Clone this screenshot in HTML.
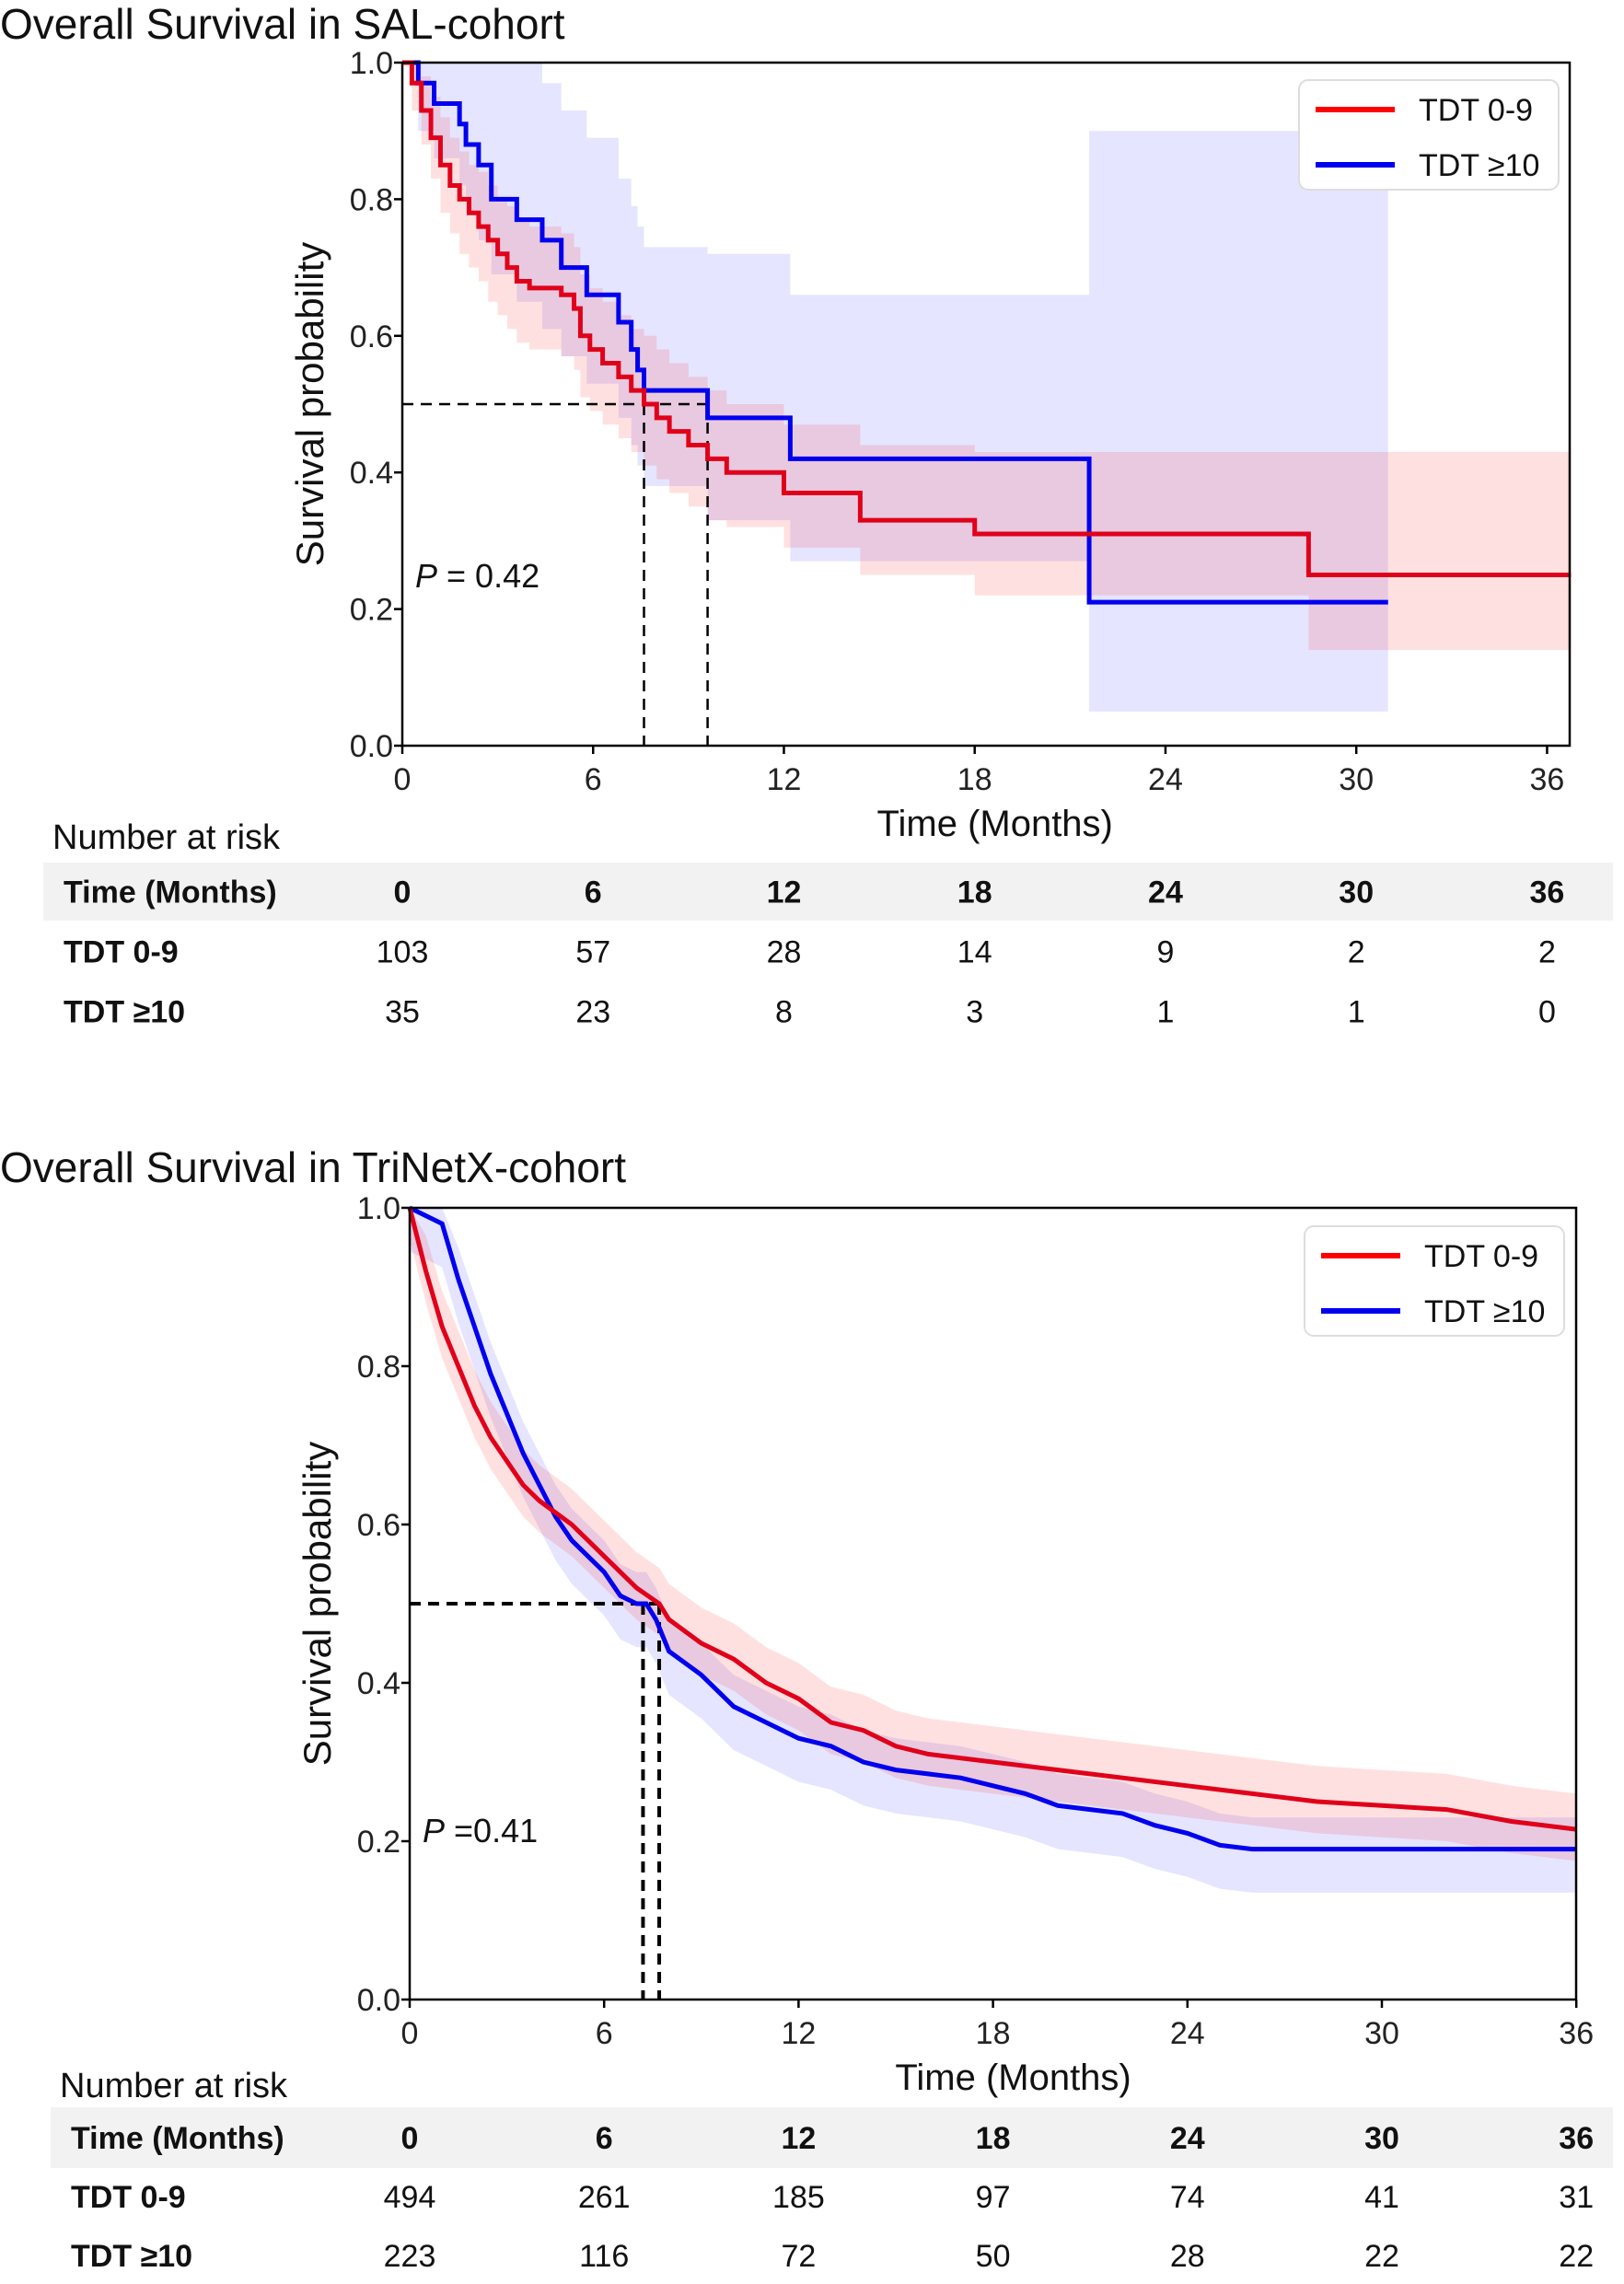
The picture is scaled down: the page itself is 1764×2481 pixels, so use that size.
<!DOCTYPE html>
<html><head><meta charset="utf-8"><style>
body{margin:0;background:#fff}
svg{display:block;font-family:"Liberation Sans Narrow","Liberation Sans",sans-serif}
</style></head><body>
<svg id="s" width="1764" height="2481" viewBox="0 0 1764 2481"></svg>
<script>
// ---- Chart A (SAL cohort) data ----
const aRedT  =[0,0.3,0.6,0.9,1.2,1.5,1.8,2.1,2.4,2.7,3.0,3.3,3.6,4.0,5.0,5.4,5.6,5.9,6.3,6.8,7.2,7.6,8.0,8.4,9.0,9.6,10.2,12.0,14.4,18.0,28.5,36.75];
const aRedS  =[1,0.97,0.93,0.89,0.85,0.82,0.80,0.78,0.76,0.74,0.72,0.70,0.68,0.67,0.66,0.64,0.60,0.58,0.56,0.54,0.52,0.50,0.48,0.46,0.44,0.42,0.40,0.37,0.33,0.31,0.25,0.25];
const aRedLo =[1,0.93,0.88,0.83,0.78,0.75,0.72,0.70,0.68,0.65,0.63,0.61,0.59,0.58,0.57,0.55,0.51,0.49,0.47,0.45,0.43,0.41,0.39,0.37,0.35,0.33,0.32,0.29,0.25,0.22,0.14,0.14];
const aRedHi =[1,1,0.98,0.95,0.92,0.89,0.87,0.85,0.84,0.82,0.80,0.79,0.77,0.76,0.75,0.73,0.69,0.67,0.65,0.63,0.61,0.60,0.58,0.56,0.54,0.52,0.50,0.47,0.44,0.43,0.43,0.43];
const aBluT  =[0,0.5,1.0,1.8,2.0,2.4,2.8,3.6,4.4,5.0,5.8,6.8,7.2,7.4,7.6,9.6,12.2,21.6,31];
const aBluS  =[1,0.97,0.94,0.91,0.88,0.85,0.80,0.77,0.74,0.70,0.66,0.62,0.58,0.55,0.52,0.48,0.42,0.21,0.21];
const aBluLo =[1,0.90,0.86,0.82,0.78,0.74,0.69,0.65,0.61,0.57,0.53,0.48,0.44,0.41,0.38,0.33,0.27,0.05,0.05];
const aBluHi =[1,1,1,1,1,1,1,1,0.97,0.93,0.89,0.83,0.79,0.76,0.73,0.72,0.66,0.90,0.90];
const aMed=[7.6,9.6];
// ---- Chart B (TriNetX cohort) data ----
const bRedT=[0,0.5,1,1.5,2,2.5,3,3.5,4,5,6,7,7.7,8,9,10,11,12,13,14,15,16,18,20,22,24,26,28,30,32,34,36];
const bRedS=[1,0.92,0.85,0.80,0.75,0.71,0.68,0.65,0.63,0.60,0.56,0.52,0.50,0.48,0.45,0.43,0.40,0.38,0.35,0.34,0.32,0.31,0.30,0.29,0.28,0.27,0.26,0.25,0.245,0.24,0.225,0.215];
const bBluT=[0,0.5,1,1.5,2,2.5,3,3.5,4,4.5,5,5.5,6,6.5,7,7.3,7.6,8,9,10,11,12,13,14,15,16,17,18,19,20,21,22,23,24,25,26,36];
const bBluS=[1,0.99,0.98,0.91,0.85,0.79,0.74,0.69,0.65,0.61,0.58,0.56,0.54,0.51,0.50,0.50,0.48,0.44,0.41,0.37,0.35,0.33,0.32,0.30,0.29,0.285,0.28,0.27,0.26,0.245,0.24,0.235,0.22,0.21,0.195,0.19,0.19];
const bMed=[7.2,7.7];
const xTicks=[0,6,12,18,24,30,36];
const yTicks=[0,0.2,0.4,0.6,0.8,1.0];
const aRiskRed=[103,57,28,14,9,2,2], aRiskBlu=[35,23,8,3,1,1,0];
const bRiskRed=[494,261,185,97,74,41,31], bRiskBlu=[223,116,72,50,28,22,22];

const NS="http://www.w3.org/2000/svg", svg=document.getElementById('s');
function el(tag,attrs,parent,txt){const e=document.createElementNS(NS,tag);for(const k in attrs)e.setAttribute(k,attrs[k]);if(txt!==undefined)e.textContent=txt;(parent||svg).appendChild(e);return e;}

function chart(cfg){
  const g=el('g',{});
  
  
  const X=t=>cfg.L+t*cfg.mw, Y=v=>cfg.B-v*(cfg.B-cfg.T);
  const title=el('text',{x:0,y:cfg.titleY,'font-size':46,fill:'#111'},g,cfg.title);
  
  
  function stepPath(T,S){let d='M'+X(T[0])+','+Y(S[0]);for(let i=1;i<T.length;i++){d+='H'+X(T[i])+'V'+Y(S[i]);}return d;}
  function smoothPath(T,S){return T.map((t,i)=>(i?'L':'M')+X(t)+','+Y(S[i])).join('');}
  function band(T,lo,hi,step,color,name){
    let up='',dn='';const n=T.length;
    if(step){up='M'+X(T[0])+','+Y(hi[0]);for(let i=1;i<n;i++)up+='H'+X(T[i])+'V'+Y(hi[i]);
      dn='V'+Y(lo[n-1]);for(let i=n-1;i>0;i--)dn+='V'+Y(lo[i-1])+'H'+X(T[i-1]);}
    else{up=T.map((t,i)=>(i?'L':'M')+X(t)+','+Y(hi[i])).join('');dn=T.slice().reverse().map((t,j)=>'L'+X(t)+','+Y(lo[n-1-j])).join('');}
    const p=el('path',{d:up+dn+'Z',fill:color,stroke:'none'},g);
    
    
  }
  cfg.bands.forEach(b=>band(b.T,b.lo,b.hi,cfg.step,b.color,b.name));
  const mx=Math.max(...cfg.med);
  const hl=el('path',{d:'M'+X(0)+','+Y(0.5)+'H'+X(mx),stroke:'#000','stroke-width':cfg.dw,'stroke-dasharray':'12,8',fill:'none'},g);
  
  
  cfg.med.forEach(m=>{const v=el('path',{d:'M'+X(m)+','+Y(0.5)+'V'+Y(0),stroke:'#000','stroke-width':cfg.dw,'stroke-dasharray':'12,8',fill:'none'},g);
    
    });
  cfg.lines.forEach(l=>{const p=el('path',{d:cfg.step?stepPath(l.T,l.S):smoothPath(l.T,l.S),stroke:l.color,'stroke-width':5,fill:'none','stroke-linejoin':'miter'},g);
    
    });
  const fr=el('rect',{x:cfg.L,y:cfg.T,width:cfg.R-cfg.L,height:cfg.B-cfg.T,fill:'none',stroke:'#000','stroke-width':2.5},g);
  
  
  yTicks.forEach(v=>{el('line',{x1:cfg.L-9,x2:cfg.L,y1:Y(v),y2:Y(v),stroke:'#000','stroke-width':2.5},g);
    const t=el('text',{x:cfg.L-10,y:Y(v)+12,'font-size':34,'text-anchor':'end',fill:'#222'},g,v.toFixed(1));
    
    });
  xTicks.forEach(v=>{el('line',{x1:X(v),x2:X(v),y1:cfg.B,y2:cfg.B+9,stroke:'#000','stroke-width':2.5},g);
    const t=el('text',{x:X(v),y:cfg.B+48,'font-size':34,'text-anchor':'middle',fill:'#222'},g,v);
    
    });
  const xl=el('text',{x:X(18)+22,y:cfg.B+98,'font-size':40,'text-anchor':'middle',fill:'#111'},g,'Time (Months)');
  
  
  const yl=el('text',{x:0,y:0,'font-size':42,'text-anchor':'middle',fill:'#111',transform:'translate('+(cfg.L-86)+','+((cfg.T+cfg.B)/2)+') rotate(-90)'},g,'Survival probability');
  
  
  const pv=el('text',{x:cfg.L+14,y:cfg.pY,'font-size':36,fill:'#111'},g);
  
  
  el('tspan',{'font-style':'italic'},pv,'P');el('tspan',{},pv,cfg.pText);
  const lg=el('g',{},g);
  
  
  el('rect',{x:cfg.lgX,y:cfg.lgY,width:282,height:119,rx:10,fill:'#fff',stroke:'#ddd','stroke-width':2},lg);
  [['TDT 0-9','red'],['TDT ≥10','#0000ee']].forEach((e,i)=>{
    const yy=cfg.lgY+32+i*60;
    const it=el('g',{},lg);
    
    
    el('line',{x1:cfg.lgX+18,x2:cfg.lgX+104,y1:yy,y2:yy,stroke:e[1],'stroke-width':6},it);
    el('text',{x:cfg.lgX+130,y:yy+12,'font-size':34,fill:'#111'},it,e[0]);
  });
  const tb=el('g',{},g);
  
  
  el('text',{x:cfg.tblX+10,y:cfg.nrY,'font-size':38,fill:'#111'},tb,'Number at risk');
  el('rect',{x:cfg.tblX,y:cfg.hdrY,width:1752-cfg.tblX,height:cfg.hdrH,fill:'#f2f2f2'},tb);
  const rows=[['Time (Months)',xTicks,true],['TDT 0-9',cfg.riskRed,false],['TDT ≥10',cfg.riskBlu,false]];
  rows.forEach((r,i)=>{const yy=cfg.hdrY+cfg.hdrH/2+12+i*cfg.rowH;
    el('text',{x:cfg.tblX+22,y:yy,'font-size':34,'font-weight':'bold',fill:'#111'},tb,r[0]);
    r[1].forEach((v,j)=>el('text',{x:X(xTicks[j]),y:yy,'font-size':34,'font-weight':r[2]?'bold':'normal','text-anchor':'middle',fill:'#111'},tb,v));
  });
}
const off=(a,d)=>a.map(v=>Math.max(0,Math.min(1,v+d)));
chart({name:'chart-sal-cohort',title:'Overall Survival in SAL-cohort',titleY:42,L:437,R:1705,T:68,B:810,mw:34.54,step:true,dw:2.5,
  bands:[{T:aBluT,lo:aBluLo,hi:aBluHi,color:'rgba(0,0,255,0.10)',name:'ci-band-tdt-10'},{T:aRedT,lo:aRedLo,hi:aRedHi,color:'rgba(255,0,0,0.12)',name:'ci-band-tdt-0-9'}],
  lines:[{T:aBluT,S:aBluS,color:'#0000ee',name:'line-tdt-10'},{T:aRedT,S:aRedS,color:'#e0001a',name:'line-tdt-0-9'}],
  med:aMed,pY:638,pText:' = 0.42',lgX:1411,lgY:87,tblX:47,nrY:922,hdrY:937,hdrH:63,rowH:65,riskRed:aRiskRed,riskBlu:aRiskBlu});
chart({name:'chart-trinetx-cohort',title:'Overall Survival in TriNetX-cohort',titleY:1284,L:445,R:1712,T:1312,B:2172,mw:35.2,step:false,dw:4,
  bands:[{T:bBluT,lo:off(bBluS,-0.055),hi:off(bBluS,0.04),color:'rgba(0,0,255,0.10)',name:'ci-band-tdt-10'},{T:bRedT,lo:off(bRedS,-0.04),hi:off(bRedS,0.045),color:'rgba(255,0,0,0.12)',name:'ci-band-tdt-0-9'}],
  lines:[{T:bBluT,S:bBluS,color:'#0000ee',name:'line-tdt-10'},{T:bRedT,S:bRedS,color:'#e0001a',name:'line-tdt-0-9'}],
  med:bMed,pY:2001,pText:'  =0.41',lgX:1417,lgY:1332,tblX:55,nrY:2278,hdrY:2289,hdrH:66,rowH:64,riskRed:bRiskRed,riskBlu:bRiskBlu});
</script>
</body></html>
